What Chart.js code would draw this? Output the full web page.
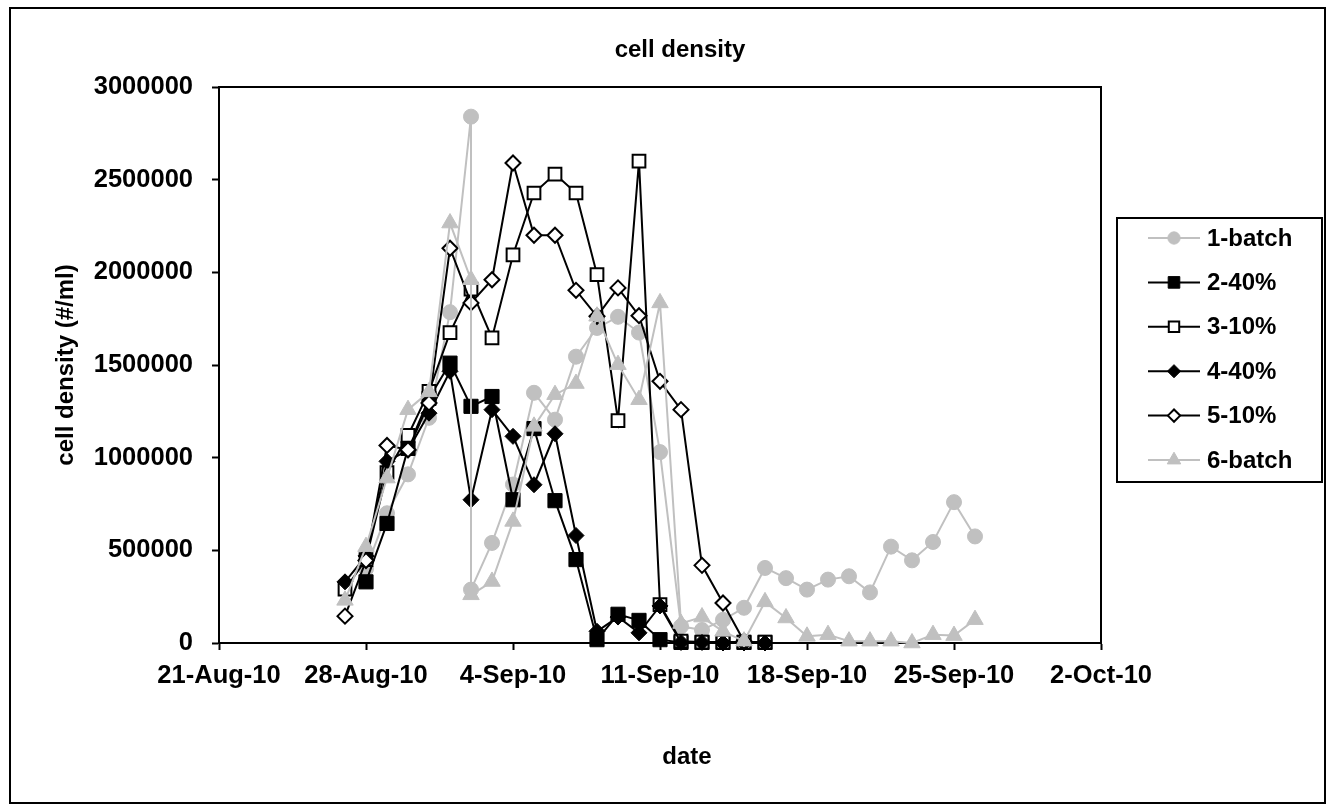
<!DOCTYPE html>
<html>
<head>
<meta charset="utf-8">
<title>cell density</title>
<script src="https://cdn.jsdelivr.net/npm/chart.js@4.4.1/dist/chart.umd.min.js"></script>
<style>
  html, body { margin: 0; padding: 0; background: #fff; }
  canvas { display: block; }
</style>
</head>
<body>
<canvas id="cell-density-chart" width="1334" height="811"></canvas>
<script>
// Count dates (2-Sep-10 was counted twice)
const dates = ['27-Aug-10', '28-Aug-10', '29-Aug-10', '30-Aug-10', '31-Aug-10', '1-Sep-10',
    '2-Sep-10', '2-Sep-10', '3-Sep-10', '4-Sep-10', '5-Sep-10', '6-Sep-10', '7-Sep-10',
    '8-Sep-10', '9-Sep-10', '10-Sep-10', '11-Sep-10', '12-Sep-10', '13-Sep-10', '14-Sep-10',
    '15-Sep-10', '16-Sep-10', '17-Sep-10', '18-Sep-10', '19-Sep-10', '20-Sep-10', '21-Sep-10',
    '22-Sep-10', '23-Sep-10', '24-Sep-10', '25-Sep-10', '26-Sep-10'];

// cell density (#/ml) per series, null = no count that day
const batch1 = [null, 400000, 700000, 910000, 1215000, 1785000, 2840000, 288000, 540000, 855000,
    1350000, 1205000, 1545000, 1700000, 1760000, 1675000, 1030000, 90000, 70000, 125000,
    190000, 405000, 350000, 288000, 342000, 360000, 273000, 520000, 446000, 545000, 760000, 575000];
const pct40a = [null, 330000, 645000, 1050000, 1320000, 1510000, 1277000, null, 1330000, 773000,
    1157000, 768000, 450000, 18000, 155000, 122000, 18000, 3000, 3000, 3000, 3000, 3000];
const pct10a = [290000, 450000, 920000, 1120000, 1358000, 1675000, 1910000, null, 1646000, 2094000,
    2428000, 2530000, 2428000, 1988000, 1200000, 2600000, 207000, 10000, 5000, 5000, 5000, 5000];
const pct40b = [330000, 470000, 980000, 1040000, 1240000, 1466000, 773000, null, 1259000, 1115000,
    854000, 1129000, 580000, 63000, 140000, 55000, 200000, 3000, 3000, 0, 0, 0];
const pct10b = [145000, 445000, 1066000, 1043000, 1295000, 2130000, 1835000, null, 1960000, 2590000,
    2200000, 2200000, 1903000, 1763000, 1916000, 1766000, 1412000, 1259000, 419000, 216000, 10000];
const batch6 = [230000, 520000, 890000, 1259000, 1355000, 2266000, 1960000, 260000, 332000, 656000,
    1169000, 1340000, 1400000, 1763000, 1502000, 1313000, 1835000, 105000, 140000, 63000,
    10000, 222000, 135000, 36000, 45000, 10000, 10000, 10000, 0, 45000, 40000, 126000];

const seriesNames = ['1-batch', '2-40%', '3-10%', '4-40%', '5-10%', '6-batch'];
const xTicks = ['21-Aug-10', '28-Aug-10', '4-Sep-10', '11-Sep-10', '18-Sep-10', '25-Sep-10', '2-Oct-10'];
const yTicks = [0, 500000, 1000000, 1500000, 2000000, 2500000, 3000000];

const MONTHS = ['Jan','Feb','Mar','Apr','May','Jun','Jul','Aug','Sep','Oct','Nov','Dec'];
const FONT = 'Liberation Sans, Arial, sans-serif';
const GREY = '#c0c0c0';

// '27-Aug-10' -> days since epoch
function dayNum(s){
    const parts = s.split('-');
    return Date.UTC(2000 + Number(parts[2]), MONTHS.indexOf(parts[1]), Number(parts[0])) / 86400000;
}

function toPoints(values){
    const pts = [];
    values.forEach(function(v, i){
        if (v !== null && v !== undefined) pts.push({x: dayNum(dates[i]), y: v});
    });
    return pts;
}

function makeSet(idx, values, style){
    return Object.assign({
        label: seriesNames[idx],
        data: toPoints(values),
        borderWidth: 2,
        pointBorderWidth: 1,
        clip: false,
        order: 6 - idx   // later series drawn on top, like the original
    }, style);
}

const datasets = [
    makeSet(0, batch1, {borderColor: GREY, backgroundColor: GREY, pointBackgroundColor: GREY,
        pointBorderColor: GREY, pointStyle: 'circle', pointRadius: 7.5}),
    makeSet(1, pct40a, {borderColor: '#000', backgroundColor: '#000', pointBackgroundColor: '#000',
        pointBorderColor: '#000', pointStyle: 'rect', pointRadius: 10}),
    makeSet(2, pct10a, {borderColor: '#000', backgroundColor: '#fff', pointBackgroundColor: '#fff',
        pointBorderColor: '#000', pointStyle: 'rect', pointRadius: 9, pointBorderWidth: 2}),
    makeSet(3, pct40b, {borderColor: '#000', backgroundColor: '#000', pointBackgroundColor: '#000',
        pointBorderColor: '#000', pointStyle: 'rectRot', pointRadius: 8}),
    makeSet(4, pct10b, {borderColor: '#000', backgroundColor: '#fff', pointBackgroundColor: '#fff',
        pointBorderColor: '#000', pointStyle: 'rectRot', pointRadius: 7.5, pointBorderWidth: 2}),
    makeSet(5, batch6, {borderColor: GREY, backgroundColor: GREY, pointBackgroundColor: GREY,
        pointBorderColor: GREY, pointStyle: 'triangle', pointRadius: 9.5})
];

// outer frame, plot area box and the two centred titles
const framePlugin = {
    id: 'frame',
    beforeDraw(chart){
        const ctx = chart.ctx;
        ctx.save();
        ctx.fillStyle = '#fff';
        ctx.fillRect(0, 0, chart.width, chart.height);
        ctx.strokeStyle = '#000';
        ctx.lineWidth = 2;
        ctx.strokeRect(10, 8, 1315, 795);
        ctx.fillStyle = '#000';
        ctx.font = 'bold 24px ' + FONT;
        ctx.textAlign = 'center';
        ctx.textBaseline = 'middle';
        ctx.fillText('cell density', 680, 50);
        ctx.fillText('date', 687, 757);
        ctx.restore();
    },
    beforeDatasetsDraw(chart){
        const a = chart.chartArea, ctx = chart.ctx;
        ctx.save();
        ctx.strokeStyle = '#000';
        ctx.lineWidth = 2;
        ctx.strokeRect(a.left, a.top, a.right - a.left, a.bottom - a.top);
        ctx.restore();
    }
};

// boxed legend on the right
const legendPlugin = {
    id: 'boxLegend',
    afterDraw(chart){
        const ctx = chart.ctx;
        ctx.save();
        ctx.strokeStyle = '#000';
        ctx.lineWidth = 2;
        ctx.strokeRect(1117, 218, 205, 264);
        ctx.font = 'bold 24px ' + FONT;
        ctx.textBaseline = 'middle';
        ctx.textAlign = 'left';
        chart.data.datasets.forEach(function(ds, i){
            const y = 238 + i * 44.4;
            ctx.strokeStyle = ds.borderColor;
            ctx.lineWidth = 2;
            ctx.beginPath();
            ctx.moveTo(1148, y);
            ctx.lineTo(1200, y);
            ctx.stroke();
            ctx.fillStyle = ds.pointBackgroundColor;
            ctx.strokeStyle = ds.pointBorderColor;
            ctx.lineWidth = ds.pointBorderWidth;
            Chart.helpers.drawPoint(ctx, {
                pointStyle: ds.pointStyle,
                radius: ds.pointRadius * 0.82,
                rotation: 0,
                borderWidth: ds.pointBorderWidth
            }, 1174, y);
            ctx.fillStyle = '#000';
            ctx.fillText(ds.label, 1207, y + 1);
        });
        ctx.restore();
    }
};

const ctx = document.querySelector('#cell-density-chart').getContext('2d');

const cellDensityGraph = new Chart(ctx, {
    type: 'line',
    data: { datasets: datasets },
    options: {
        responsive: false,
        animation: false,
        spanGaps: true,
        layout: { padding: { left: 0, right: 233, top: 87, bottom: 0 } },
        plugins: {
            legend: { display: false },
            tooltip: { enabled: false },
            title: { display: false }
        },
        scales: {
            x: {
                type: 'linear',
                min: dayNum(xTicks[0]),
                max: dayNum(xTicks[xTicks.length - 1]),
                afterBuildTicks: function(scale){
                    scale.ticks = xTicks.map(function(t){ return {value: dayNum(t)}; });
                },
                afterFit: function(scale){ scale.height = 168; },
                ticks: {
                    autoSkip: false,
                    maxRotation: 0,
                    padding: 11,
                    color: '#000',
                    font: { family: FONT, size: 25.5, weight: 'bold' },
                    callback: function(value){
                        const t = xTicks.find(function(s){ return dayNum(s) === value; });
                        return t || '';
                    }
                },
                grid: { drawOnChartArea: false, drawTicks: true, tickLength: 7, tickWidth: 2, color: '#000' },
                border: { display: true, color: '#000', width: 2 }
            },
            y: {
                min: yTicks[0],
                max: yTicks[yTicks.length - 1],
                afterBuildTicks: function(scale){
                    scale.ticks = yTicks.map(function(v){ return {value: v}; });
                },
                afterFit: function(scale){ scale.width = 219; },
                ticks: {
                    padding: 19,
                    color: '#000',
                    font: { family: FONT, size: 25.5, weight: 'bold' },
                    callback: function(value){ return String(value); }
                },
                grid: { drawOnChartArea: false, drawTicks: true, tickLength: 7, tickWidth: 2, color: '#000' },
                border: { display: true, color: '#000', width: 2 },
                title: {
                    display: true,
                    text: 'cell density (#/ml)',
                    color: '#000',
                    font: { family: FONT, size: 24, weight: 'bold' },
                    padding: { top: 52, bottom: 0 }
                }
            }
        }
    },
    plugins: [framePlugin, legendPlugin]
});
</script>
</body>
</html>
